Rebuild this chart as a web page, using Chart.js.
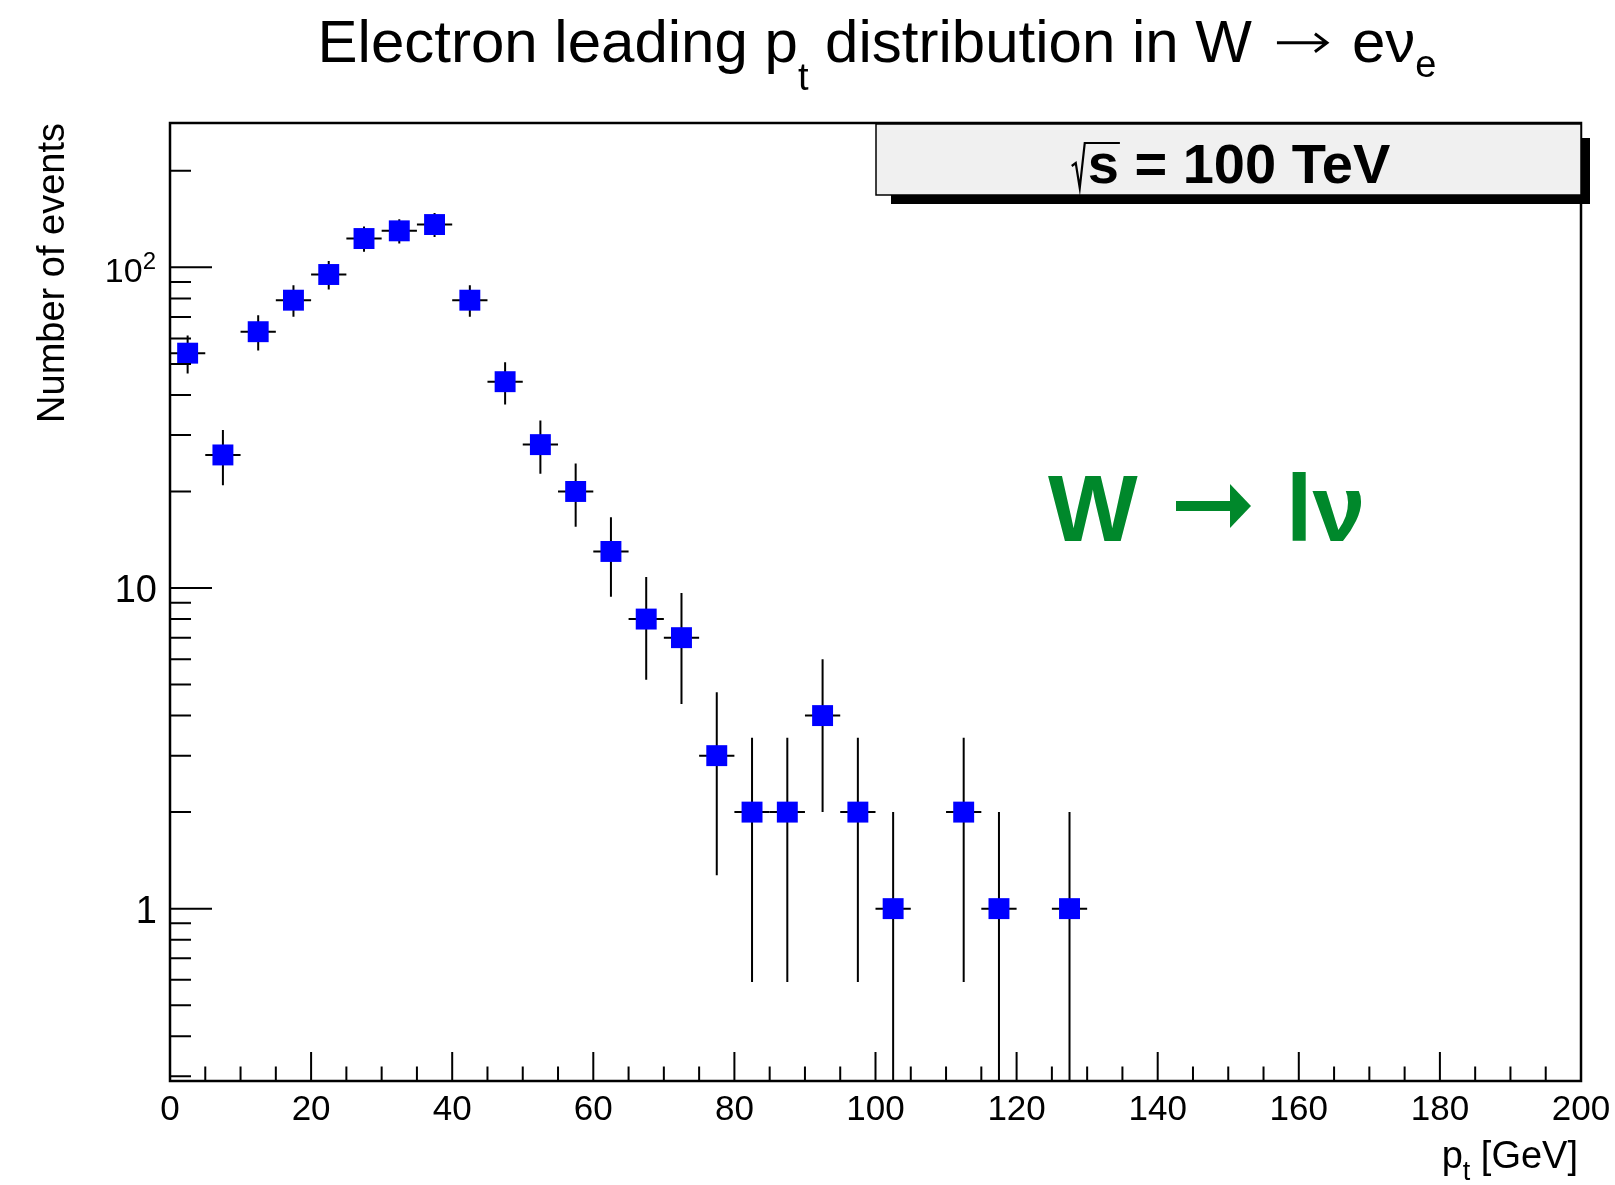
<!DOCTYPE html>
<html lang="en">
<head>
  <meta charset="UTF-8">
  <title>Electron leading pt distribution</title>
  <script src="https://cdn.jsdelivr.net/npm/chart.js"></script>
  <style>
    html, body { margin: 0; padding: 0; background: #fff; }
    canvas { display: block; }
  </style>
</head>
<body>
  <canvas id="myChart" width="1615" height="1185"></canvas>

  <script>
    // histogram bins (5 GeV wide), counts
    const binCenters = [2.5, 7.5, 12.5, 17.5, 22.5, 27.5, 32.5, 37.5, 42.5, 47.5,
                        52.5, 57.5, 62.5, 67.5, 72.5, 77.5, 82.5, 87.5, 92.5, 97.5,
                        102.5, 107.5, 112.5, 117.5, 122.5, 127.5];
    const counts = [54, 26, 63, 79, 95, 123, 130, 136, 79, 44,
                    28, 20, 13, 8, 7, 3, 2, 2, 4, 2,
                    1, 0, 2, 1, 0, 1];
    const countErrors = [7.35, 5.10, 7.94, 8.89, 9.75, 11.09, 11.40, 11.66, 8.89, 6.63,
                         5.29, 4.47, 3.61, 2.83, 2.65, 1.73, 1.41, 1.41, 2.00, 1.41,
                         1.00, 0, 1.41, 1.00, 0, 1.00];
    const binHalfWidth = 2.5;

    const xMajorTicks = [0, 20, 40, 60, 80, 100, 120, 140, 160, 180, 200];
    const xTickLabels = ['0', '20', '40', '60', '80', '100', '120', '140', '160', '180', '200'];
    const yMajorTicks = [1, 10, 100];
    const yTickLabels = ['1', '10', '10^2'];

    const FONT = '"Liberation Sans", Arial, Helvetica, sans-serif';
    function font(size, bold) {
      return (bold ? 'bold ' : '') + size + 'px ' + FONT;
    }

    // arrow like ROOT's #rightarrow (thin, open head)
    function thinArrow(ctx, x0, x1, yc, lw, head) {
      ctx.save();
      ctx.lineWidth = lw;
      ctx.strokeStyle = ctx.fillStyle;
      ctx.beginPath();
      ctx.moveTo(x0, yc);
      ctx.lineTo(x1, yc);
      ctx.moveTo(x1 - head, yc - head * 0.75);
      ctx.lineTo(x1, yc);
      ctx.lineTo(x1 - head, yc + head * 0.75);
      ctx.stroke();
      ctx.restore();
    }

    // draws pieces {t, size, dy, bold} or {arrow, gap, size} one after another
    function drawRich(ctx, parts, x, y, align) {
      const widthOf = p => {
        if (p.arrow) return p.arrow + 2 * p.gap;
        ctx.font = font(p.size, p.bold);
        return ctx.measureText(p.t).width;
      };
      let w = 0;
      parts.forEach(p => { w += widthOf(p); });
      let cx = align === 'center' ? x - w / 2 : align === 'right' ? x - w : x;
      ctx.textAlign = 'left';
      ctx.textBaseline = 'alphabetic';
      parts.forEach(p => {
        if (p.arrow) {
          thinArrow(ctx, cx + p.gap, cx + p.gap + p.arrow, y - p.size * 0.32, p.size * 0.05, p.size * 0.2);
        } else {
          ctx.font = font(p.size, p.bold);
          ctx.fillText(p.t, cx, y + (p.dy || 0));
        }
        cx += widthOf(p);
      });
    }

    const errorBars = {
      id: 'errorBars',
      beforeDatasetsDraw(chart) {
        const {ctx, chartArea, scales: {x, y}} = chart;
        ctx.save();
        ctx.beginPath();
        ctx.rect(chartArea.left, chartArea.top, chartArea.right - chartArea.left, chartArea.bottom - chartArea.top);
        ctx.clip();
        ctx.strokeStyle = '#000';
        ctx.lineWidth = 2;
        chart.data.datasets[0].data.forEach(p => {
          const px = x.getPixelForValue(p.x);
          const py = y.getPixelForValue(p.y);
          const lo = p.y - p.err > 0 ? y.getPixelForValue(p.y - p.err) : chartArea.bottom;
          const hi = y.getPixelForValue(p.y + p.err);
          ctx.beginPath();
          ctx.moveTo(px, lo);
          ctx.lineTo(px, hi);
          ctx.moveTo(x.getPixelForValue(p.x - binHalfWidth), py);
          ctx.lineTo(x.getPixelForValue(p.x + binHalfWidth), py);
          ctx.stroke();
        });
        ctx.restore();
      }
    };

    const rootFrame = {
      id: 'rootFrame',
      afterDraw(chart) {
        const {ctx, chartArea: a, scales: {x, y}} = chart;
        ctx.save();
        ctx.strokeStyle = '#000';
        ctx.fillStyle = '#000';

        // x ticks (inside, pointing up)
        ctx.lineWidth = 2;
        ctx.beginPath();
        for (let v = 0; v <= 200; v += 5) {
          const px = x.getPixelForValue(v);
          const len = v % 20 === 0 ? 29 : 14.5;
          ctx.moveTo(px, a.bottom);
          ctx.lineTo(px, a.bottom - len);
        }
        // y ticks (inside, pointing right)
        const yMinor = [];
        [0.1, 1, 10, 100].forEach(d => { for (let k = 1; k <= 9; k++) yMinor.push(k * d); });
        yMinor.forEach(v => {
          if (v < y.min || v > y.max) return;
          const py = y.getPixelForValue(v);
          const len = yMajorTicks.includes(v) ? 42 : 21;
          ctx.moveTo(a.left, py);
          ctx.lineTo(a.left + len, py);
        });
        ctx.stroke();

        // frame
        ctx.lineWidth = 2.5;
        ctx.strokeRect(a.left, a.top, a.right - a.left, a.bottom - a.top);

        // x tick labels
        ctx.font = font(35);
        ctx.textAlign = 'center';
        ctx.textBaseline = 'alphabetic';
        xMajorTicks.forEach((v, i) => ctx.fillText(xTickLabels[i], x.getPixelForValue(v), 1120));

        // y tick labels
        yMajorTicks.forEach((v, i) => {
          const py = y.getPixelForValue(v);
          const lab = yTickLabels[i];
          if (lab.includes('^')) {
            const [b, e] = lab.split('^');
            drawRich(ctx, [{t: b, size: 34}, {t: e, size: 24, dy: -13}], 156, py + 15, 'right');
          } else {
            ctx.font = font(38);
            ctx.textAlign = 'right';
            ctx.fillText(lab, 157, py + 14);
          }
        });

        // axis titles
        drawRich(ctx, [{t: 'p', size: 38}, {t: 't', size: 27, dy: 12}, {t: ' [GeV]', size: 38}], 1578, 1168, 'right');
        ctx.save();
        ctx.translate(64, a.top);
        ctx.rotate(-Math.PI / 2);
        ctx.font = font(38);
        ctx.textAlign = 'right';
        ctx.fillText('Number of events', 0, 0);
        ctx.restore();

        // title
        drawRich(ctx, [
          {t: 'Electron leading p', size: 60},
          {t: 't', size: 38, dy: 28},
          {t: ' distribution in W', size: 60},
          {arrow: 50, gap: 25, size: 60},
          {t: 'e\u03bd', size: 60},
          {t: 'e', size: 38, dy: 15}
        ], 877, 62, 'center');

        // energy label box with shadow
        const bx = 876, by = 124, bw = a.right - 876, bh = 71;
        ctx.fillStyle = '#000';
        ctx.fillRect(bx + 15, by + 14, bw - 6, bh - 5);
        ctx.fillStyle = '#f0f0f0';
        ctx.fillRect(bx, by, bw, bh);
        ctx.lineWidth = 1.5;
        ctx.strokeRect(bx, by, bw, bh);

        ctx.fillStyle = '#000';
        ctx.font = font(56, true);
        const rest = 's = 100 TeV';
        const restW = ctx.measureText(rest).width;
        const sW = ctx.measureText('s').width;
        const radW = 16;
        const left = 1231 - (radW + restW) / 2;
        const base = 183;
        // radical sign over the s
        ctx.lineWidth = 2.2;
        ctx.beginPath();
        ctx.moveTo(left, base - 17);
        ctx.lineTo(left + 4, base - 20);
        ctx.lineTo(left + 8, base + 5);
        ctx.lineTo(left + 13, base - 40);
        ctx.lineTo(left + radW + sW + 1, base - 40);
        ctx.stroke();
        ctx.textAlign = 'left';
        ctx.fillText(rest, left + radW, base);

        // process label
        ctx.fillStyle = '#00882b';
        ctx.font = font(95, true);
        ctx.fillText('W', 1048, 541);
        ctx.fillRect(1176, 501, 56, 10);
        ctx.beginPath();
        ctx.moveTo(1230, 484);
        ctx.lineTo(1251, 506);
        ctx.lineTo(1230, 528);
        ctx.closePath();
        ctx.fill();
        ctx.fillText('l\u03bd', 1286, 541);

        ctx.restore();
      }
    };

    const points = binCenters
      .map((x, i) => ({x: x, y: counts[i], err: countErrors[i]}))
      .filter(p => p.y > 0);

    const ctx = document.getElementById('myChart').getContext('2d');
    const myChart = new Chart(ctx, {
      type: 'scatter',
      data: {
        datasets: [{
          label: 'Electron leading pt',
          data: points,
          pointStyle: 'rect',
          pointRadius: 14.8,
          pointBackgroundColor: '#0000ff',
          pointBorderWidth: 0,
          pointHoverRadius: 14.8
        }]
      },
      options: {
        responsive: false,
        animation: false,
        events: [],
        layout: { padding: { left: 170, right: 34, top: 123, bottom: 104 } },
        plugins: { legend: { display: false }, tooltip: { enabled: false } },
        scales: {
          x: { type: 'linear', min: 0, max: 200, display: false },
          y: { type: 'logarithmic', min: 0.29, max: 282, display: false }
        }
      },
      plugins: [errorBars, rootFrame]
    });
  </script>
</body>
</html>
